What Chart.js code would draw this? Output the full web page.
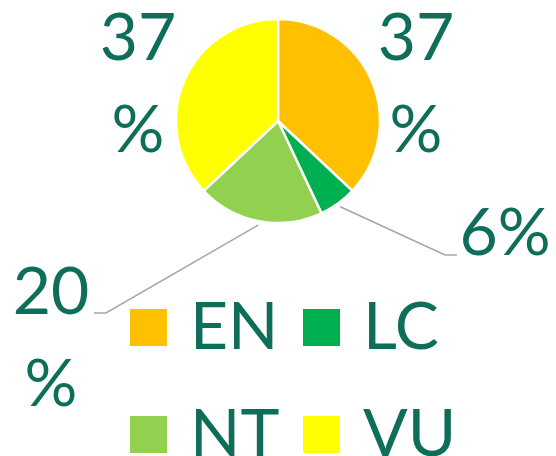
<!DOCTYPE html>
<html>
<head>
<meta charset="utf-8">
<script src="https://cdn.jsdelivr.net/npm/chart.js@4.4.1/dist/chart.umd.min.js"></script>
<style>
  html, body { margin: 0; padding: 0; background: #fff; }
  #wrap { width: 556px; height: 456px; position: relative; }
</style>
</head>
<body>
<div id="wrap"><canvas id="chart"></canvas></div>
<script>
// data
const categories = ["EN", "LC", "NT", "VU"];
const shares = [37, 6, 20, 37];
const sliceColors = ["#FFC000", "#00B050", "#92D050", "#FFFF00"];

const textColor = "#0F6E5A";
const fontFamily = "Lato, 'Open Sans', sans-serif";

// label placement: center x, baseline of each line, optional leader elbow + end
const labelSpots = [
    { x: 416, lines: [60, 152] },
    { x: 505, lines: [255], leader: [[445, 255], [457, 255]] },
    { x: 51, lines: [314, 406], leader: [[106, 313], [94, 313]] },
    { x: 138, lines: [60, 152] },
];

// legend grid: box left per column, box top per row
const legendCols = [130, 303];
const legendRows = [309, 416];

const labelsPlugin = {
    id: "sliceLabels",
    afterDraw(chart) {
        const ctx = chart.ctx;
        const arcs = chart.getDatasetMeta(0).data;
        ctx.save();
        arcs.forEach((arc, i) => {
            const spot = labelSpots[i];
            const p = arc.getProps(["x", "y", "startAngle", "endAngle", "outerRadius"], true);
            if (spot.leader) {
                const mid = (p.startAngle + p.endAngle) / 2;
                const r = p.outerRadius + 4;
                ctx.beginPath();
                ctx.moveTo(p.x + Math.cos(mid) * r, p.y + Math.sin(mid) * r);
                spot.leader.forEach(pt => ctx.lineTo(pt[0], pt[1]));
                ctx.strokeStyle = "#A6A6A6";
                ctx.lineWidth = 1.5;
                ctx.stroke();
            }
            const text = spot.lines.length > 1 ? [shares[i] + "", "%"] : [shares[i] + "%"];
            ctx.fillStyle = textColor;
            ctx.font = "66px " + fontFamily;
            ctx.textAlign = "center";
            ctx.textBaseline = "alphabetic";
            text.forEach((t, j) => ctx.fillText(t, spot.x, spot.lines[j]));
        });

        // legend, 2 x 2
        categories.forEach((name, i) => {
            const bx = legendCols[i % 2];
            const by = legendRows[Math.floor(i / 2)];
            ctx.fillStyle = sliceColors[i];
            ctx.fillRect(bx, by, 37, 37);
            ctx.fillStyle = textColor;
            ctx.font = "66px " + fontFamily;
            ctx.textAlign = "left";
            ctx.fillText(name, bx + 60, by + 40);
        });
        ctx.restore();
    }
};

new Chart(document.getElementById("chart"), {
    type: "pie",
    data: {
        labels: categories,
        datasets: [{
            data: shares,
            backgroundColor: sliceColors,
            borderColor: "#ffffff",
            borderWidth: 2.5,
            radius: 102,
        }]
    },
    options: {
        responsive: true,
        maintainAspectRatio: false,
        animation: false,
        layout: { padding: { top: 15, bottom: 229, left: 0, right: 0 } },
        plugins: {
            legend: { display: false },
            tooltip: { enabled: false },
        }
    },
    plugins: [labelsPlugin]
});
</script>
</body>
</html>
